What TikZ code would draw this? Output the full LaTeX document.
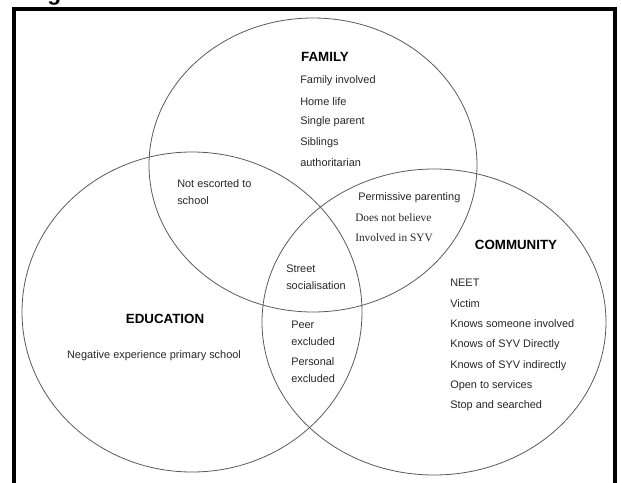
\documentclass[tikz,border=0pt]{standalone}
\usepackage{fontspec}
\setmainfont{Liberation Sans}
\newfontfamily\serifitem{Liberation Serif}
\usepackage{xcolor}
\definecolor{Ink}{HTML}{262626}
\definecolor{Ring}{HTML}{5A5A5A}

\begin{document}
\begin{tikzpicture}[x=0.75pt,y=-0.75pt,
  ring/.style={Ring,line width=0.6pt},
  head/.style={font=\fontsize{10}{12}\selectfont\bfseries,text=black,inner sep=0pt},
  item/.style={font=\fontsize{8.2}{10}\selectfont,text=Ink,anchor=west,inner sep=0pt},
  itemserif/.style={font=\fontsize{8.5}{10}\selectfont\serifitem,text=Ink,anchor=west,inner sep=0pt}]
\useasboundingbox (0,0) rectangle (621,482);

% Caption remnant and frame.
\node[anchor=base west,inner sep=0pt,font=\fontsize{17}{20}\selectfont\bfseries] (cap) at (47,0.5) {g};
\draw[black,line width=3pt] (14,520) -- (14,9) -- (615,9) -- (615,520);

% The three sets.
\draw[ring] (313,165) ellipse [x radius=164,y radius=147];
\draw[ring] (192,312) ellipse [x radius=170,y radius=160];
\draw[ring] (434,322) ellipse [x radius=172,y radius=153];

% Family.
\node[head] (family) at (325,57) {FAMILY};
\node[item] (fam1) at (300,81) {Family involved};
\node[item] (fam2) at (300,101.5) {Home life};
\node[item] (fam3) at (300,122) {Single parent};
\node[item] (fam4) at (300,142.5) {Siblings};
\node[item] (fam5) at (300,163) {authoritarian};

% Family and education.
\node[item] (fe1) at (177,184) {Not escorted to};
\node[item] (fe2) at (177,201) {school};

% Family and community.
\node[item] (fc1) at (358,198) {Permissive parenting};
\node[itemserif] (fc2) at (355,217.5) {Does not believe};
\node[itemserif] (fc3) at (355,237.5) {Involved in SYV};

% All three.
\node[item] (all1) at (286,269) {Street};
\node[item] (all2) at (286,286) {socialisation};

% Education and community.
\node[item] (ec1) at (291,325) {Peer};
\node[item] (ec2) at (291,342) {excluded};
\node[item] (ec3) at (291,362) {Personal};
\node[item] (ec4) at (291,378.5) {excluded};

% Education.
\node[head] (education) at (165,319) {EDUCATION};
\node[item,anchor=center] (edu1) at (154,356) {Negative experience primary school};

% Community.
\node[head] (community) at (516,245) {COMMUNITY};
\node[item] (com1) at (450,283) {NEET};
\node[item] (com2) at (450,303.5) {Victim};
\node[item] (com3) at (450,324) {Knows someone involved};
\node[item] (com4) at (450,344.5) {Knows of SYV Directly};
\node[item] (com5) at (450,365.5) {Knows of SYV indirectly};
\node[item] (com6) at (450,386) {Open to services};
\node[item] (com7) at (450,406) {Stop and searched};
\end{tikzpicture}
\end{document}
